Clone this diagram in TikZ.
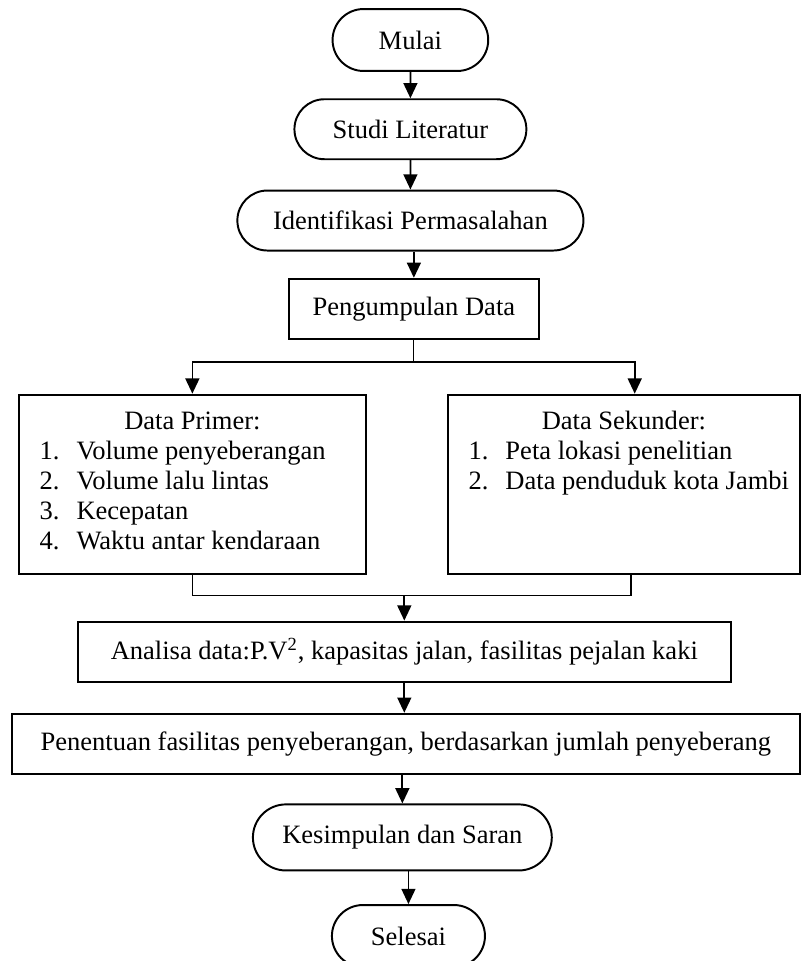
\documentclass[tikz,border=0pt]{standalone}
\usepackage{fontspec}
\setmainfont{Liberation Serif}
\usetikzlibrary{positioning,shapes.misc,arrows.meta}

\newcommand{\butir}[2]{\hspace*{9.5pt}\makebox[17pt][l]{#1}#2\par}

\begin{document}
\begin{tikzpicture}[%
        >={Triangle[length=7pt,width=6.4pt]},
        line width=0.8pt,
        font=\fontsize{12.2}{13.8}\selectfont,
        terminal/.style={%
          rounded rectangle,
          draw,
          line width=0.9pt,
          minimum height=27.6pt,
          inner sep=0pt
        },
        process/.style={%
          rectangle,
          draw,
          line width=0.9pt,
          minimum height=27.6pt,
          inner sep=0pt
        }
      ]
      \useasboundingbox (0,0) rectangle (369.4pt,-442.1pt);
      \node[terminal, minimum width=71.6pt, minimum height=28.5pt] (mulai) at (188.8pt,-18.4pt) {Mulai};
      \node[terminal, minimum width=106.7pt, below=12.1pt of mulai] (studi) {Studi Literatur};
      \node[terminal, minimum width=159.2pt, below=13.5pt of studi] (identifikasi) {Identifikasi Permasalahan};
      \node[process, minimum width=115pt, below=12.1pt of identifikasi, xshift=1.6pt] (pengumpulan) {Pengumpulan Data};
      \coordinate[below=10.1pt of pengumpulan.south] (split);
      % data primer dan sekunder
      \node[process, below=24.8pt of pengumpulan, xshift=-101.9pt] (primer)
        {\parbox[c][82.3pt][t]{159.6pt}{\vspace*{6.2pt}\strut\centering Data Primer:\par
          \raggedright
          \butir{1.}{Volume penyeberangan}
          \butir{2.}{Volume lalu lintas}
          \butir{3.}{Kecepatan}
          \butir{4.}{Waktu antar kendaraan}}};
      \node[process, below=24.8pt of pengumpulan, xshift=96.6pt] (sekunder)
        {\parbox[c][82.3pt][t]{161.9pt}{\vspace*{6.2pt}\strut\centering Data Sekunder:\par
          \raggedright
          \butir{1.}{Peta lokasi penelitian}
          \butir{2.}{Data penduduk kota Jambi}}};
      \coordinate[below=9.7pt of primer.south] (gabungkiri);
      \coordinate[below=9.7pt of sekunder.south, xshift=3.2pt] (gabungkanan);
      \node[process, minimum width=300.4pt, below=129.2pt of pengumpulan, xshift=-4.4pt] (analisa)
        {Analisa data:P.V\textsuperscript{2}, kapasitas jalan, fasilitas pejalan kaki};
      \node[process, minimum width=362.5pt, below=13.9pt of analisa, xshift=0.7pt] (penentuan)
        {Penentuan fasilitas penyeberangan, berdasarkan jumlah penyeberang};
      \node[terminal, minimum width=137.5pt, minimum height=30.4pt, below=13.2pt of penentuan, xshift=-1.6pt] (kesimpulan) {Kesimpulan dan Saran};
      \node[terminal, minimum width=70.4pt, minimum height=28.5pt, below=15pt of kesimpulan, xshift=2.8pt] (selesai) {Selesai};

      \draw[->] (mulai) -- (studi);
      \draw[->] (studi) -- (identifikasi);
      \draw[->] (identifikasi.south -| pengumpulan) -- (pengumpulan.north);
      \draw[line width=0.5pt] (pengumpulan) -- (split);
      \draw[->] (split) -| (primer.north);
      \draw[->] (split) -| ([xshift=5pt]sekunder.north);
      \draw (primer.south) -- (gabungkiri) -- (gabungkanan) -- (gabungkanan |- sekunder.south);
      \draw[->] (gabungkiri -| analisa.north) -- (analisa.north);
      \draw[->] (analisa.south) -- (analisa.south |- penentuan.north);
      \draw[->] (kesimpulan.north |- penentuan.south) -- (kesimpulan.north);
      \draw[->] (selesai.north |- kesimpulan.south) -- (selesai.north);
    \end{tikzpicture}
\end{document}
